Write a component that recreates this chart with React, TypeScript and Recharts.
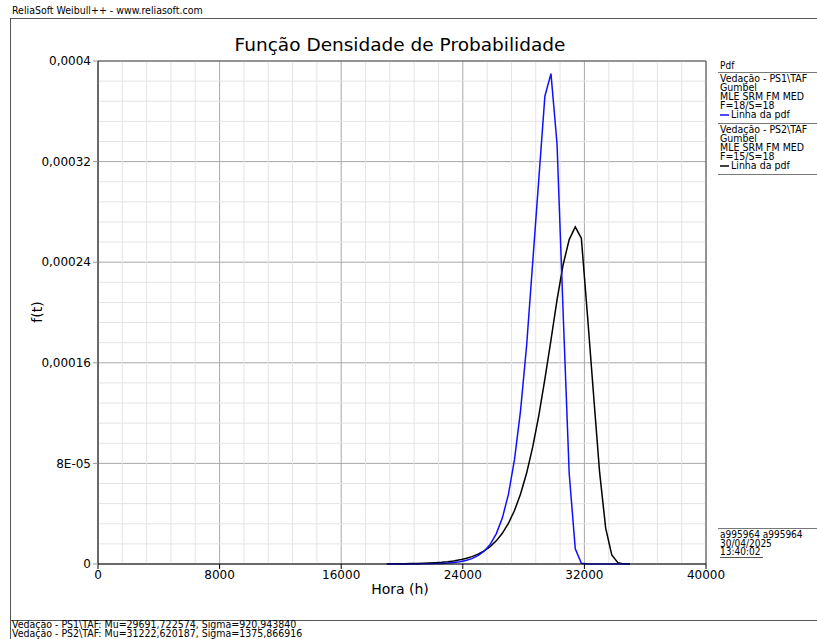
import React from 'react'
import { LineChart, Line, XAxis, YAxis, CartesianGrid, ReferenceLine } from 'recharts'

// hours sampled along the curves (h)
const hours = [
  19000, 19400, 19800, 20200, 20600, 21000, 21400, 21800, 22200, 22600, 23000, 23400, 23800, 24200,
  24600, 25000, 25400, 25800, 26200, 26600, 27000, 27400, 27800, 28200, 28600, 29000, 29400, 29800,
  30200, 30600, 31000, 31400, 31800, 32200, 32600, 33000, 33400, 33800, 34200, 34600, 35000,
]

// Vedação - PS1\TAF, pdf values
const ps1Pdf = [
  0.00000001, 0.000000015, 0.000000024, 0.000000036, 0.000000056, 0.000000086, 0.00000013,
  0.00000021, 0.00000032, 0.00000049, 0.00000076, 0.0000012, 0.0000018, 0.0000028, 0.0000043,
  0.0000066, 0.0000102, 0.0000156, 0.000024, 0.0000365, 0.0000553, 0.000083, 0.000122, 0.000174,
  0.00024, 0.000306, 0.000372, 0.00039, 0.000334, 0.0002, 0.000072, 0.000012, 0.0000006, 0, 0, 0,
  0, 0, 0, 0, 0,
]

// Vedação - PS2\TAF, pdf values
const ps2Pdf = [
  0.0000001, 0.000000135, 0.00000018, 0.00000024, 0.00000032, 0.00000043, 0.00000057, 0.00000077,
  0.00000103, 0.00000138, 0.00000184, 0.00000246, 0.00000329, 0.00000438, 0.00000585, 0.0000078,
  0.0000104, 0.0000138, 0.0000184, 0.0000244, 0.0000322, 0.0000425, 0.0000556, 0.0000723,
  0.0000931, 0.000118, 0.000147, 0.000178, 0.00021, 0.000238, 0.000258, 0.000268, 0.000259,
  0.000198, 0.000135, 0.000073, 0.0000285, 0.0000072, 0.0000011, 0.0000001, 0,
]

const xTicks = [0, 8000, 16000, 24000, 32000, 40000]
const yTicks = [0, 0.00008, 0.00016, 0.00024, 0.00032, 0.0004]
const yTickLabels = ['0', '8E-05', '0,00016', '0,00024', '0,00032', '0,0004']

const legendPs1 = ['Vedação - PS1\\TAF', 'Gumbel', 'MLE SRM FM MED', 'F=18/S=18']
const legendPs2 = ['Vedação - PS2\\TAF', 'Gumbel', 'MLE SRM FM MED', 'F=15/S=18']
const stamp = ['a995964 a995964', '30/04/2025', '13:40:02']
const footer = [
  'Vedação - PS1\\TAF: Mu=29691,722574, Sigma=920,943840',
  'Vedação - PS2\\TAF: Mu=31222,620187, Sigma=1375,866916',
]

const rows = hours.map((h, i) => ({ hour: h, ps1: ps1Pdf[i], ps2: ps2Pdf[i] }))

// minor grid every 1/5 of a major step
const minorX: number[] = []
for (let k = 1; k < 25; k++) if (k % 5 !== 0) minorX.push(k * 1600)
const minorY: number[] = []
for (let k = 1; k < 25; k++) if (k % 5 !== 0) minorY.push(k * 0.000016)

const small = '"DejaVu Sans Condensed", "DejaVu Sans", sans-serif'
const font = '"DejaVu Sans", sans-serif'

const yLabel = (v: number) => {
  const i = yTicks.findIndex((t) => Math.abs(t - v) < 1e-9)
  return i >= 0 ? yTickLabels[i] : String(v)
}

export default function App() {
  const txt = { fontFamily: small, fill: '#000' }
  const big = { fontFamily: font, fill: '#000' }
  return (
    <div style={{ position: 'absolute', left: 0, top: 0, width: 817, height: 639, background: '#fff', fontFamily: font }}>
      <LineChart
        width={817}
        height={639}
        data={rows}
        margin={{ top: 61, right: 111, bottom: 45, left: 38 }}
      >
        {minorX.map((v) => (
          <ReferenceLine key={'mx' + v} x={v} stroke="#e4e4e4" strokeWidth={1} />
        ))}
        {minorY.map((v) => (
          <ReferenceLine key={'my' + v} y={v} stroke="#e4e4e4" strokeWidth={1} />
        ))}
        <CartesianGrid stroke="#a8a8a8" strokeDasharray="" />
        <ReferenceLine y={0.0004} stroke="#555" />
        <ReferenceLine x={40000} stroke="#555" />
        <XAxis
          dataKey="hour"
          type="number"
          domain={[0, 40000]}
          ticks={xTicks}
          height={30}
          tickSize={5}
          tickMargin={1}
          axisLine={{ stroke: '#000' }}
          tickLine={{ stroke: '#000' }}
          tick={{ fontSize: 12, fill: '#000', fontFamily: font }}
        />
        <YAxis
          type="number"
          domain={[0, 0.0004]}
          ticks={yTicks}
          width={60}
          tickSize={5}
          tickMargin={2}
          tickFormatter={yLabel}
          axisLine={{ stroke: '#000' }}
          tickLine={{ stroke: '#999' }}
          tick={{ fontSize: 12, fill: '#000', fontFamily: font }}
        />
        <Line
          type="linear"
          dataKey="ps2"
          stroke="#000"
          strokeWidth={1.5}
          dot={false}
          isAnimationActive={false}
        />
        <Line
          type="linear"
          dataKey="ps1"
          stroke="#1010ff"
          strokeWidth={1.5}
          dot={false}
          isAnimationActive={false}
        />
      </LineChart>

      <svg
        width={817}
        height={639}
        style={{ position: 'absolute', left: 0, top: 0, pointerEvents: 'none' }}
      >
        <text x={12} y={14} fontSize={10.5} {...txt}>ReliaSoft Weibull++ - www.reliasoft.com</text>
        <line x1={10} y1={18.5} x2={817} y2={18.5} stroke="#555" />
        <line x1={10.5} y1={18} x2={10.5} y2={639} stroke="#555" />
        <line x1={10} y1={620.5} x2={817} y2={620.5} stroke="#555" />

        <text x={400} y={51} fontSize={18.5} textAnchor="middle" {...big}>Função Densidade de Probabilidade</text>
        <text x={400} y={594} fontSize={14} textAnchor="middle" {...big}>Hora (h)</text>
        <text x={37} y={312} fontSize={14} textAnchor="middle" transform="rotate(-90 37 312)" dy="0.35em" {...big}>f(t)</text>

        {footer.map((s, i) => (
          <text key={s} x={12} y={628 + i * 8.5} fontSize={10.5} {...txt}>{s}</text>
        ))}

        <text x={720} y={69} fontSize={10} {...txt}>Pdf</text>
        <line x1={718} y1={72.5} x2={817} y2={72.5} stroke="#777" />
        {legendPs1.map((s, i) => (
          <text key={'a' + i} x={720} y={82 + i * 9} fontSize={10.5} {...txt}>{s}</text>
        ))}
        <line x1={720} y1={115} x2={729} y2={115} stroke="#1010ff" strokeWidth={1.5} />
        <text x={731} y={118} fontSize={10.5} {...txt}>Linha da pdf</text>
        <line x1={718} y1={123.5} x2={817} y2={123.5} stroke="#777" />
        {legendPs2.map((s, i) => (
          <text key={'b' + i} x={720} y={133 + i * 9} fontSize={10.5} {...txt}>{s}</text>
        ))}
        <line x1={720} y1={166} x2={729} y2={166} stroke="#000" strokeWidth={1.5} />
        <text x={731} y={169} fontSize={10.5} {...txt}>Linha da pdf</text>
        <line x1={718} y1={174.5} x2={817} y2={174.5} stroke="#777" />

        <line x1={718} y1={528.5} x2={817} y2={528.5} stroke="#777" />
        {stamp.map((s, i) => (
          <text key={'s' + i} x={720} y={538 + i * 8.5} fontSize={10} {...txt}>{s}</text>
        ))}
        <line x1={720} y1={557.5} x2={763} y2={557.5} stroke="#555" />
      </svg>
    </div>
  )
}
